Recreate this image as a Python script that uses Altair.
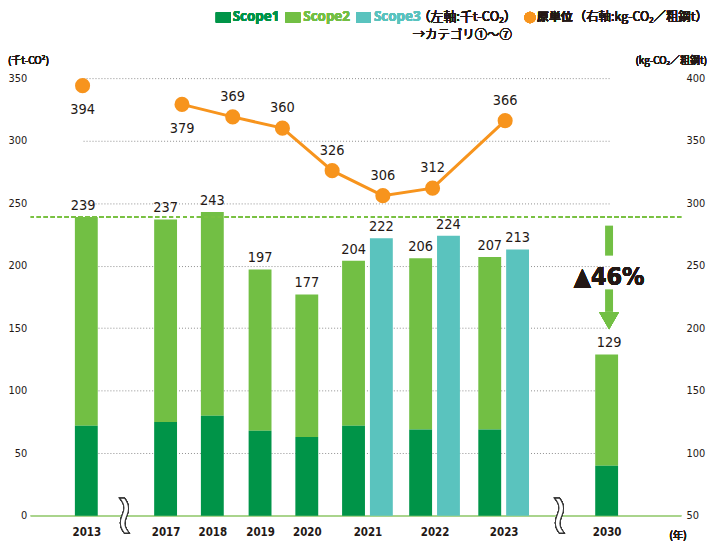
import altair as alt
import pandas as pd

# ---------------- data ----------------
years = [2013, 2017, 2018, 2019, 2020, 2021, 2022, 2023, 2030]
scope1 = [72, 75, 80, 68, 63, 72, 69, 69, 40]
scope12_total = [239, 237, 243, 197, 177, 204, 206, 207, 129]
scope3_years = [2021, 2022, 2023]
scope3 = [222, 224, 213]
intensity_years = [2013, 2017, 2018, 2019, 2020, 2021, 2022, 2023]
intensity = [394, 379, 369, 360, 326, 306, 312, 366]
intensity_label_below = [2013, 2017]
left_ticks = [0, 50, 100, 150, 200, 250, 300, 350]
right_ticks = [50, 100, 150, 200, 250, 300, 350, 400]
base_level = 239
reduction_text = "▲46%"

# ---------------- styles ----------------
C1 = "#009448"
C2 = "#72bf44"
C3 = "#5ac3be"
CO = "#f7941d"
TXT = "#231815"
NUM_FONT = "'DejaVu Sans Condensed', 'Noto Sans CJK JP', sans-serif"
LEG_FONT = "'Open Sans', 'Noto Sans CJK JP', sans-serif"
CJK_FONT = "'Noto Sans CJK JP', 'Open Sans', sans-serif"

# layout scales (years -> horizontal position of bar groups / line points)
XB = alt.Scale(domain=[2013, 2017, 2018, 2019, 2020, 2021, 2022, 2023, 2030],
               range=[52.5, 135.5, 182.5, 230.5, 277.5, 338.5, 406, 475.5, 581.5],
               nice=False, zero=False)
XL = alt.Scale(domain=[2013, 2017, 2018, 2019, 2020, 2021, 2022, 2023],
               range=[52, 152, 203, 253, 303, 354, 404, 477],
               nice=False, zero=False)
YL = alt.Scale(domain=[0, 350], nice=False, zero=False)
YR = alt.Scale(domain=[50, 400], nice=False, zero=False)
PAIR_OFF = 14
BAR_W = 23

bars = pd.DataFrame({"year": years, "s1": scope1, "total": scope12_total})
bars["paired"] = bars["year"].isin(scope3_years)
single = bars[~bars["paired"]]
paired = bars[bars["paired"]]
s3 = pd.DataFrame({"year": scope3_years, "s3": scope3})
inten = pd.DataFrame({"year": intensity_years, "v": intensity})
inten["below"] = inten["year"].isin(intensity_label_below)


def xb(axis=None):
    return alt.X("year:Q", scale=XB, axis=axis)


def yl(field, axis=None):
    return alt.Y(f"{field}:Q", scale=YL, axis=axis)


x_axis = alt.Axis(values=years, format="d", grid=False, domain=False, ticks=False,
                  labelFont=NUM_FONT, labelFontSize=11.5, labelFontWeight="bold",
                  labelColor=TXT, labelPadding=11, title=None)
y_left_axis = alt.Axis(values=left_ticks, grid=True, gridDash=[1, 2], gridColor="#8f8f8f",
                       gridWidth=1, domain=False, ticks=False, labelFont=NUM_FONT,
                       labelFontSize=11, labelColor=TXT, labelPadding=4, title=None)
y_right_axis = alt.Axis(values=right_ticks, orient="right", grid=False, domain=False,
                        ticks=False, labelFont=NUM_FONT, labelFontSize=11, labelColor=TXT,
                        labelPadding=5, title=None)

layers = []

# baseline
layers.append(alt.Chart(bars).mark_rule(color="#a9d48c", strokeWidth=1.5).encode(
    y=alt.Y(datum=0, type="quantitative", scale=YL, axis=None)))

# Scope2 (upper part) / Scope1 bars - single years
layers.append(alt.Chart(single).mark_bar(width=BAR_W, color=C2).encode(
    x=xb(x_axis), y=yl("total", y_left_axis), y2="s1:Q"))
layers.append(alt.Chart(single).mark_bar(width=BAR_W, color=C1).encode(
    x=xb(), y=yl("s1")))
# paired years
layers.append(alt.Chart(paired).mark_bar(width=BAR_W, color=C2, xOffset=-PAIR_OFF).encode(
    x=xb(), y=yl("total"), y2="s1:Q"))
layers.append(alt.Chart(paired).mark_bar(width=BAR_W, color=C1, xOffset=-PAIR_OFF).encode(
    x=xb(), y=yl("s1")))
layers.append(alt.Chart(s3).mark_bar(width=BAR_W, color=C3, xOffset=PAIR_OFF).encode(
    x=xb(), y=yl("s3")))

# bar value labels
lab = dict(font=NUM_FONT, fontSize=14.5, color=TXT, baseline="bottom", dy=-4)
layers.append(alt.Chart(single).mark_text(**lab).encode(
    x=xb(), y=yl("total"), text=alt.Text("total:Q")))
layers.append(alt.Chart(paired).mark_text(**lab, xOffset=-PAIR_OFF).encode(
    x=xb(), y=yl("total"), text=alt.Text("total:Q")))
layers.append(alt.Chart(s3).mark_text(**lab, xOffset=PAIR_OFF).encode(
    x=xb(), y=yl("s3"), text=alt.Text("s3:Q")))

# 2013 level dashed line
layers.append(alt.Chart(bars).mark_rule(color="#7ac143", strokeWidth=1.5, strokeDash=[4, 3]).encode(
    y=alt.Y(datum=base_level, type="quantitative", scale=YL, axis=None)))

# intensity line + points
layers.append(alt.Chart(inten).transform_filter("datum.year >= 2017").mark_line(
    color=CO, strokeWidth=3).encode(
    x=alt.X("year:Q", scale=XL, axis=None),
    y=alt.Y("v:Q", scale=YR, axis=y_right_axis)))
layers.append(alt.Chart(inten).mark_point(
    shape="circle", filled=True, opacity=1, size=230, color=CO).encode(
    x=alt.X("year:Q", scale=XL, axis=None), y=alt.Y("v:Q", scale=YR, axis=None)))
layers.append(alt.Chart(inten).transform_filter("!datum.below").mark_text(
    font=NUM_FONT, fontSize=14.5, color=TXT, dy=-20).encode(
    x=alt.X("year:Q", scale=XL, axis=None), y=alt.Y("v:Q", scale=YR, axis=None),
    text="v:Q"))
layers.append(alt.Chart(inten).transform_filter("datum.below").mark_text(
    font=NUM_FONT, fontSize=14.5, color=TXT, dy=25).encode(
    x=alt.X("year:Q", scale=XL, axis=None), y=alt.Y("v:Q", scale=YR, axis=None),
    text="v:Q"))

# reduction arrow annotation (2030)
arrow = pd.DataFrame({"year": [2030, 2030], "a": [232, 181], "b": [208, 163]})
layers.append(alt.Chart(arrow).mark_rule(color=C2, strokeWidth=8).encode(
    x=xb(), y=yl("a"), y2="b:Q"))
layers.append(alt.Chart(bars).mark_point(
    shape="triangle-down", filled=True, opacity=1, size=400, color=C2).encode(
    x=alt.X(datum=2030, type="quantitative", scale=XB, axis=None),
    y=alt.Y(datum=156, type="quantitative", scale=YL, axis=None)))
layers.append(alt.Chart(bars).mark_text(
    text=reduction_text, font=NUM_FONT, fontSize=25, fontWeight="bold", color=TXT).encode(
    x=alt.X(datum=2030, type="quantitative", scale=XB, axis=None),
    y=alt.Y(datum=191, type="quantitative", scale=YL, axis=None)))

# axis-break squiggles
for yr in [2015, 2026.7]:
    layers.append(alt.Chart(bars).mark_text(
        text="≀", font="DejaVu Sans", fontSize=56, fill="white", stroke="#333",
        strokeWidth=1, baseline="middle").encode(
        x=alt.X(datum=yr, type="quantitative", scale=XB, axis=None),
        y=alt.Y(datum=0, type="quantitative", scale=YL, axis=None)))


# legend (manual)
def txt(s, x, y, color=TXT, size=12, weight="normal", align="left", font=CJK_FONT):
    return alt.Chart(bars).mark_text(
        text=s, font=font, fontSize=size, fontWeight=weight, color=color,
        align=align, baseline="middle").encode(x=alt.value(x), y=alt.value(y))


def box(x0, x1, y0, y1, color):
    return alt.Chart(bars).mark_rect(color=color).encode(
        x=alt.value(x0), x2=alt.value(x1), y=alt.value(y0), y2=alt.value(y1))


def dot(x, y, color, size):
    return alt.Chart(bars).mark_point(
        shape="circle", filled=True, opacity=1, size=size, color=color).encode(
        x=alt.value(x), y=alt.value(y))


LY = -61
layers += [
    box(186, 201, LY - 5, LY + 5, C1), txt("Scope1", 203, LY, C1, 13.5, "bold", font=LEG_FONT),
    box(256, 271, LY - 5, LY + 5, C2), txt("Scope2", 274, LY, C2, 13.5, "bold", font=LEG_FONT),
    box(327, 342, LY - 5, LY + 5, C3), txt("Scope3", 345, LY, C3, 13.5, "bold", font=LEG_FONT),
    txt("（左軸:千t-CO₂）", 389, LY, TXT, 13),
    dot(502, LY, CO, 130), txt("原単位", 509, LY, TXT, 12, "bold"),
    txt("（右軸:kg-CO₂／粗鋼t）", 546, LY, TXT, 12.5),
    txt("→カテゴリ①～⑦", 384, -43, TXT, 12.5),
    txt("(千t-CO²)", -23, -17, TXT, 10),
    txt("(kg-CO₂／粗鋼t)", 680, -17, TXT, 10, align="right"),
    txt("(年)", 642, 460, TXT, 10.5),
]

chart = alt.layer(*layers).resolve_scale(x="independent", y="independent").properties(
    width=654, height=440,
    padding={"left": 23, "top": 69, "right": 26, "bottom": 28},
    autosize=alt.AutoSizeParams(type="none"),
).configure_view(stroke=None)

chart.save("out.html", embed_options={"renderer": "svg", "actions": False})
